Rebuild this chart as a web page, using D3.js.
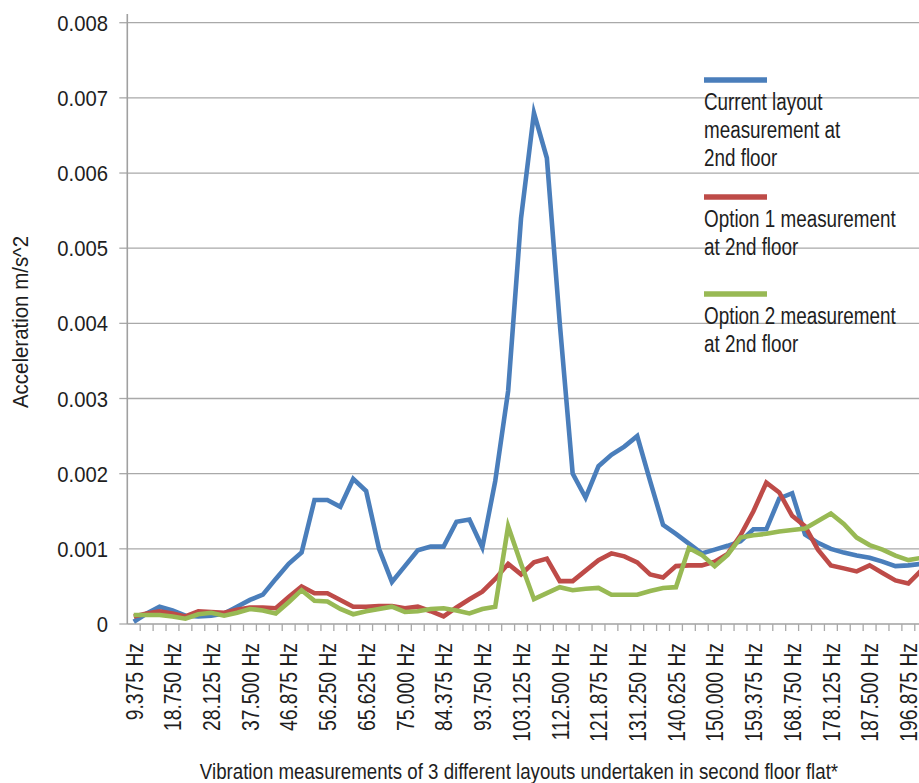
<!DOCTYPE html>
<html>
<head>
<meta charset="utf-8">
<script src="https://cdnjs.cloudflare.com/ajax/libs/d3/7.8.5/d3.min.js"></script>
<style>
  html, body { margin: 0; padding: 0; background: #fff; }
  svg { display: block; }
  text { font-family: 'Liberation Sans', Arial, sans-serif; fill: #1e1e1e; }
</style>
</head>
<body>
<svg id="chart" width="919" height="783"></svg>
<script>
const categories = ["9.375 Hz","12.500 Hz","15.625 Hz","18.750 Hz","21.875 Hz","25.000 Hz","28.125 Hz","31.250 Hz","34.375 Hz","37.500 Hz","40.625 Hz","43.750 Hz","46.875 Hz","50.000 Hz","53.125 Hz","56.250 Hz","59.375 Hz","62.500 Hz","65.625 Hz","68.750 Hz","71.875 Hz","75.000 Hz","78.125 Hz","81.250 Hz","84.375 Hz","87.500 Hz","90.625 Hz","93.750 Hz","96.875 Hz","100.000 Hz","103.125 Hz","106.250 Hz","109.375 Hz","112.500 Hz","115.625 Hz","118.750 Hz","121.875 Hz","125.000 Hz","128.125 Hz","131.250 Hz","134.375 Hz","137.500 Hz","140.625 Hz","143.750 Hz","146.875 Hz","150.000 Hz","153.125 Hz","156.250 Hz","159.375 Hz","162.500 Hz","165.625 Hz","168.750 Hz","171.875 Hz","175.000 Hz","178.125 Hz","181.250 Hz","184.375 Hz","187.500 Hz","190.625 Hz","193.750 Hz","196.875 Hz","200.000 Hz"];

const currentLayout = [0.00003,0.00014,0.00023,0.00018,0.00011,0.0001,0.00011,0.00014,0.00023,0.00032,0.00039,0.0006,0.0008,0.00095,0.00165,0.00165,0.00156,0.00193,0.00177,0.001,0.00056,0.00077,0.00098,0.00103,0.00103,0.00136,0.00139,0.00102,0.0019,0.0031,0.0054,0.0068,0.0062,0.004,0.002,0.00168,0.0021,0.00225,0.00236,0.0025,0.0019,0.00132,0.0012,0.00107,0.00094,0.00099,0.00104,0.0011,0.00126,0.00126,0.00167,0.00174,0.00119,0.00108,0.001,0.00095,0.00091,0.00088,0.00083,0.00077,0.00078,0.0008];

const option1 = [0.0001,0.00014,0.00017,0.00014,0.0001,0.00017,0.00016,0.00015,0.00019,0.00022,0.00022,0.00021,0.00036,0.0005,0.00041,0.00041,0.00032,0.00023,0.00023,0.00024,0.00024,0.00021,0.00023,0.00017,0.0001,0.00022,0.00033,0.00043,0.0006,0.0008,0.00066,0.00082,0.00087,0.00057,0.00057,0.00071,0.00085,0.00094,0.0009,0.00082,0.00066,0.00062,0.00077,0.00078,0.00078,0.00083,0.00093,0.00118,0.0015,0.00188,0.00175,0.00144,0.0013,0.00099,0.00078,0.00074,0.0007,0.00078,0.00068,0.00058,0.00054,0.00071];

const option2 = [0.00012,0.00012,0.00012,0.0001,0.00007,0.00013,0.00015,0.00011,0.00015,0.0002,0.00018,0.00014,0.00029,0.00045,0.00031,0.0003,0.0002,0.00013,0.00017,0.0002,0.00023,0.00016,0.00017,0.0002,0.00021,0.00018,0.00014,0.0002,0.00023,0.0013,0.0008,0.00033,0.00041,0.00049,0.00045,0.00047,0.00048,0.00039,0.00039,0.00039,0.00044,0.00048,0.00049,0.00101,0.00092,0.00077,0.00092,0.00115,0.00118,0.0012,0.00123,0.00125,0.00127,0.00137,0.00147,0.00133,0.00115,0.00105,0.00099,0.00091,0.00085,0.00088];

const seriesNames = [["Current layout","measurement at","2nd floor"],["Option 1 measurement","at 2nd floor"],["Option 2 measurement","at 2nd floor"]];
const seriesColors = ["#4A7EBB","#BE4B48","#98B954"];
const yTicks = [0,0.001,0.002,0.003,0.004,0.005,0.006,0.007,0.008];
const yTickLabels = ["0","0.001","0.002","0.003","0.004","0.005","0.006","0.007","0.008"];
const xAxisTitle = "Vibration measurements of 3 different layouts undertaken in second floor flat*";
const yAxisTitle = "Acceleration m/s^2";

const svg = d3.select("#chart");
const plotL = 127.3, plotR = 927.7, plotT = 22.7, plotB = 624;
const x = d3.scaleBand().domain(categories).range([plotL, plotR]).padding(0);
const y = d3.scaleLinear().domain([0, 0.008]).range([plotB, plotT]);
const bw = x.bandwidth();
const grid = "#A9A9A9";

// gridlines
svg.append("g").selectAll("line").data(yTicks.slice(1)).join("line")
  .attr("x1", plotL).attr("x2", 919).attr("y1", d => y(d)).attr("y2", d => y(d))
  .attr("stroke", grid).attr("stroke-width", 1.3);

// y axis ticks and labels
svg.append("g").selectAll("line").data(yTicks).join("line")
  .attr("x1", plotL - 8).attr("x2", plotL).attr("y1", d => y(d)).attr("y2", d => y(d))
  .attr("stroke", grid).attr("stroke-width", 1.3);
svg.append("g").selectAll("text").data(yTicks).join("text")
  .attr("transform", d => `translate(108,${y(d)}) scale(0.9,1)`)
  .attr("text-anchor", "end").attr("dy", "0.36em").attr("font-size", 22.5)
  .text((d, i) => yTickLabels[i]);
svg.append("line").attr("x1", plotL).attr("x2", plotL).attr("y1", 14).attr("y2", plotB)
  .attr("stroke", "#A0A0A0").attr("stroke-width", 1.6);

// x axis
svg.append("line").attr("x1", plotL).attr("x2", 919).attr("y1", plotB).attr("y2", plotB)
  .attr("stroke", "#A0A0A0").attr("stroke-width", 1.6);
svg.append("g").selectAll("line").data(categories).join("line")
  .attr("x1", d => x(d) + bw).attr("x2", d => x(d) + bw)
  .attr("y1", plotB).attr("y2", plotB + 7)
  .attr("stroke", grid).attr("stroke-width", 1.3);
svg.append("g").selectAll("text").data(categories.filter((d, i) => i % 3 === 0)).join("text")
  .attr("transform", d => `translate(${x(d) + bw / 2},643) rotate(-90) scale(0.84,1)`)
  .attr("dy", "0.38em").attr("text-anchor", "end").attr("font-size", 23)
  .text(d => d);

// lines
const line = d3.line().x((d, i) => x(categories[i]) + bw / 2).y(d => y(d));
[currentLayout, option1, option2].forEach((s, k) => {
  svg.append("path").datum(s).attr("d", line).attr("fill", "none")
    .attr("stroke", seriesColors[k]).attr("stroke-width", 4.6)
    .attr("stroke-linejoin", "miter").attr("stroke-miterlimit", 10);
});

// legend
const legendY = [80, 197, 294];
seriesNames.forEach((lines, k) => {
  const g = svg.append("g");
  g.append("line").attr("x1", 704).attr("x2", 767).attr("y1", legendY[k]).attr("y2", legendY[k])
    .attr("stroke", seriesColors[k]).attr("stroke-width", 5.5);
  lines.forEach((t, j) => {
    g.append("text").attr("transform", `translate(704,${legendY[k] + 30 + j * 28}) scale(0.82,1)`)
      .attr("font-size", 23).text(t);
  });
});

// axis titles
svg.append("text").attr("transform", "translate(20,322) rotate(-90) scale(0.93,1)")
  .attr("text-anchor", "middle").attr("dy", "0.35em").attr("font-size", 22).text(yAxisTitle);
svg.append("text").attr("transform", "translate(519,779) scale(0.85,1)").attr("text-anchor", "middle")
  .attr("font-size", 22).text(xAxisTitle);
</script>
</body>
</html>
